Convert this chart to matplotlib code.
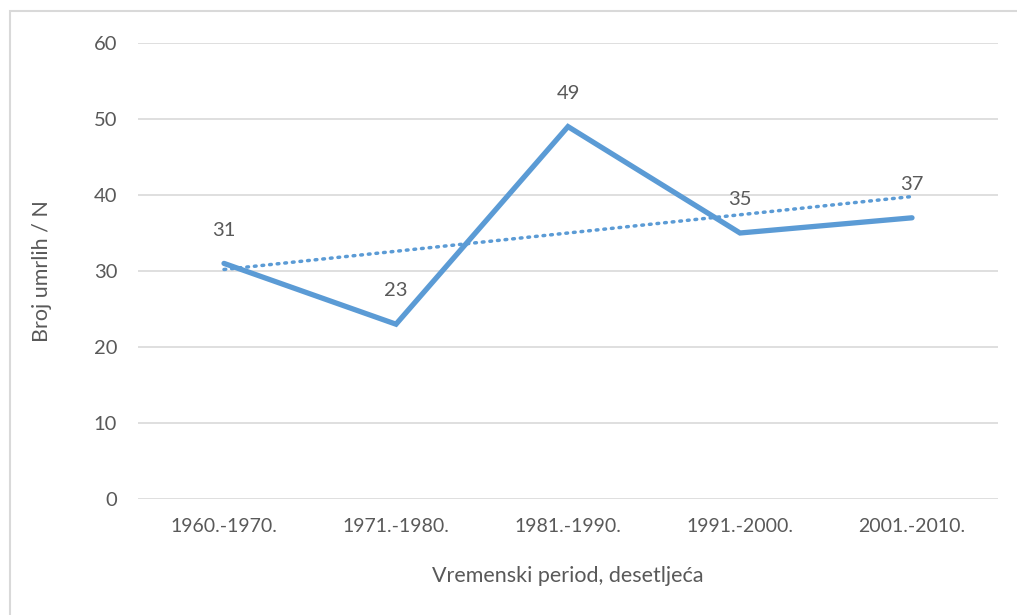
import numpy as np
import matplotlib.pyplot as plt
from matplotlib.patches import Rectangle

# data
periods = ['1960.-1970.', '1971.-1980.', '1981.-1990.', '1991.-2000.', '2001.-2010.']
deaths = [31, 23, 49, 35, 37]
y_ticks = [0, 10, 20, 30, 40, 50, 60]

blue = '#5B9BD5'
grey_text = '#595959'
plt.rcParams['font.family'] = ['Lato', 'DejaVu Sans']

fig = plt.figure(figsize=(10.17, 6.15), dpi=100)
ax = fig.add_axes([138 / 1017, 1 - 499 / 615, 860 / 1017, 456 / 615])

x = np.arange(len(periods))

# linear trend line (like excel's trendline)
k, b = np.polyfit(x, deaths, 1)
ax.plot(x, k * x + b, color=blue, lw=2.5, ls=(0, (0.5, 1.7)), dash_capstyle='round', zorder=3)

ax.plot(x, deaths, color=blue, lw=3.8, solid_capstyle='round', solid_joinstyle='miter', zorder=4)

for xi, v in zip(x, deaths):
    ax.annotate(str(v), (xi, v), xytext=(0, 24), textcoords='offset points',
                ha='center', va='center', fontsize=14.5, color=grey_text, zorder=5)

ax.set_xlim(-0.5, len(periods) - 0.5)
ax.set_ylim(0, 60)
ax.set_yticks(y_ticks)
ax.set_xticks(x)
ax.set_xticklabels(periods)
ax.grid(axis='y', color='#D9D9D9', lw=1.2)
ax.set_axisbelow(True)
for s in ax.spines.values():
    s.set_visible(False)
ax.tick_params(length=0, labelsize=14.5, colors=grey_text)
ax.tick_params(axis='x', labelsize=14)
ax.tick_params(axis='y', pad=15)
ax.tick_params(axis='x', pad=14)

ax.set_xlabel('Vremenski period, desetljeća', fontsize=15.5, color=grey_text, labelpad=22)
ax.set_ylabel('Broj umrlih / N', fontsize=15.5, color=grey_text, labelpad=30)

# light chart border (top and left visible, rest runs off the image)
fig.patches.append(Rectangle((10 / 1017, -0.1), 1.2, 1.1 - 11 / 615, transform=fig.transFigure,
                             fill=False, edgecolor='#D9D9D9', lw=1.5))

fig.savefig('out.png', dpi=100)
